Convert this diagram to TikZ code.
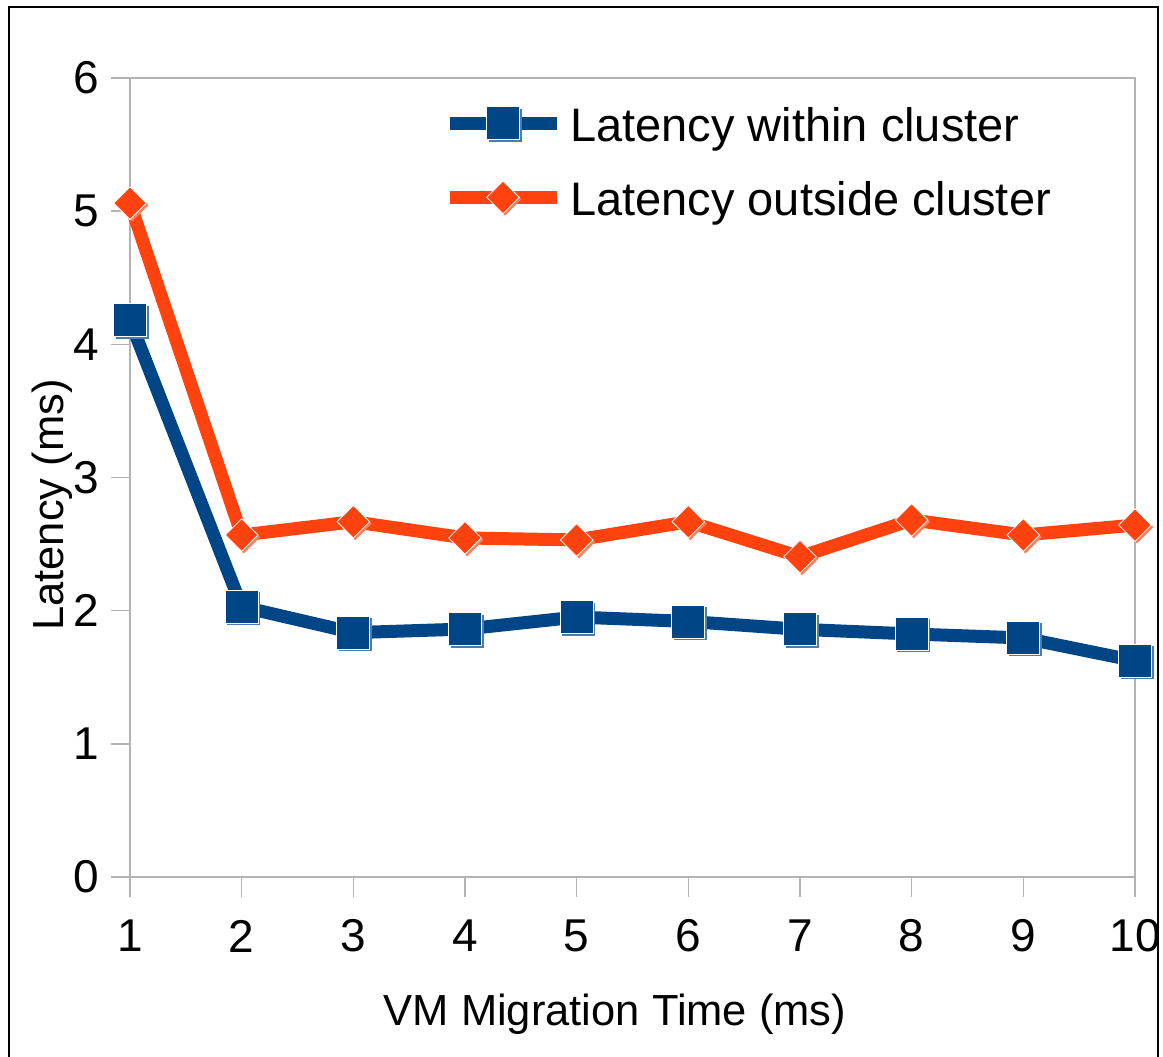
\documentclass[tikz,border=0pt]{standalone}
\usepackage{fontspec}
\setmainfont{Liberation Sans}
\usetikzlibrary{shapes.geometric}

\definecolor{seriesblue}{HTML}{004586}
\definecolor{seriesorange}{HTML}{FF420E}
\definecolor{axisgray}{HTML}{B3B3B3}

\begin{document}
\begin{tikzpicture}[x=1pt,y=-1pt,
  axisline/.style={draw=axisgray, line width=1.5pt},
  frameline/.style={draw=black, line width=2pt},
  ticklabel/.style={font=\fontsize{46}{50}\selectfont, inner sep=0pt},
  titlelabel/.style={font=\fontsize{43.5}{48}\selectfont, inner sep=0pt},
  legendlabel/.style={font=\fontsize{47}{52}\selectfont, inner sep=0pt, anchor=base west},
  seriesline/.style={line width=13pt, line join=round},
  sqmark/.style={rectangle, minimum size=33pt, inner sep=0pt, fill=#1, draw=white, line width=0.8pt},
  sqshadow/.style={rectangle, minimum size=33pt, inner sep=0pt, fill=#1!70},
  dmmark/.style={diamond, minimum size=33pt, inner sep=0pt, fill=#1, draw=white, line width=0.8pt},
  dmshadow/.style={diamond, minimum size=33pt, inner sep=0pt, fill=#1!70},
]
\useasboundingbox (0,0) rectangle (1163,1057);
\fill[white] (0,0) rectangle (1163,1057);

% outer frame (open at the bottom edge of the page)
\draw[frameline] (9,1075) -- (9,7) -- (1158,7) -- (1158,1075);

% data space: x = migration time, y = latency
\begin{scope}[shift={(18.333,877)}, x=111.667pt, y=133.17pt]
  % plot frame and ticks
  \draw[axisline] (1,0) rectangle (10,6);
  \foreach \v in {0,...,6} {
    \draw[axisline] (1,\v) -- ++(-19pt,0pt);
    \node[ticklabel, anchor=east] (yl\v) at ([xshift=-31pt]1,\v) {\v};
  }
  \foreach \i in {1,...,10} {
    \draw[axisline] (\i,0) -- ++(0pt,-20pt);
    \node[ticklabel] (xl\i) at ([yshift=-59pt]\i,0) {\i};
  }

  % series points
  \foreach \i/\v in {1/4.18, 2/2.03, 3/1.835, 4/1.862, 5/1.952,
                     6/1.919, 7/1.86, 8/1.825, 9/1.795, 10/1.624}
    \coordinate (b\i) at (\i,\v);
  \foreach \i/\v in {1/5.06, 2/2.568, 3/2.668, 4/2.546, 5/2.531,
                     6/2.668, 7/2.405, 8/2.681, 9/2.568, 10/2.643}
    \coordinate (o\i) at (\i,\v);

  % latency within cluster
  \draw[seriesline, seriesblue] (b1) -- (b2) -- (b3) -- (b4) -- (b5)
    -- (b6) -- (b7) -- (b8) -- (b9) -- (b10);
  \foreach \i in {1,...,10} {
    \node[sqshadow=seriesblue] (bs\i) at ([shift={(2pt,-2pt)}]b\i) {};
    \node[sqmark=seriesblue] (bm\i) at (b\i) {};
  }

  % latency outside cluster
  \draw[seriesline, seriesorange] (o1) -- (o2) -- (o3) -- (o4) -- (o5)
    -- (o6) -- (o7) -- (o8) -- (o9) -- (o10);
  \foreach \i in {1,...,10} {
    \node[dmshadow=seriesorange] (os\i) at ([shift={(2pt,-2pt)}]o\i) {};
    \node[dmmark=seriesorange] (om\i) at (o\i) {};
  }
\end{scope}

% axis titles
\node[titlelabel, rotate=90, anchor=base] (ytitle) at (63,505) {Latency (ms)};
\node[titlelabel, anchor=base] (xtitle) at (615,1025) {VM Migration Time (ms)};

% legend
\coordinate (lb1) at (450,123.3);
\coordinate (lb2) at (557,123.3);
\coordinate (lo1) at (450,197.3);
\coordinate (lo2) at (557,197.3);
\draw[seriesline, seriesblue] (lb1) -- (lb2);
\node[sqshadow=seriesblue] (lbs) at (505,125.3) {};
\node[sqmark=seriesblue] (lbm) at (503,123.3) {};
\node[legendlabel] (lbt) at (570,141.7) {Latency within cluster};
\draw[seriesline, seriesorange] (lo1) -- (lo2);
\node[dmshadow=seriesorange] (los) at (505,199.3) {};
\node[dmmark=seriesorange] (lom) at (503,197.3) {};
\node[legendlabel] (lot) at (570,215) {Latency outside cluster};
\end{tikzpicture}
\end{document}
